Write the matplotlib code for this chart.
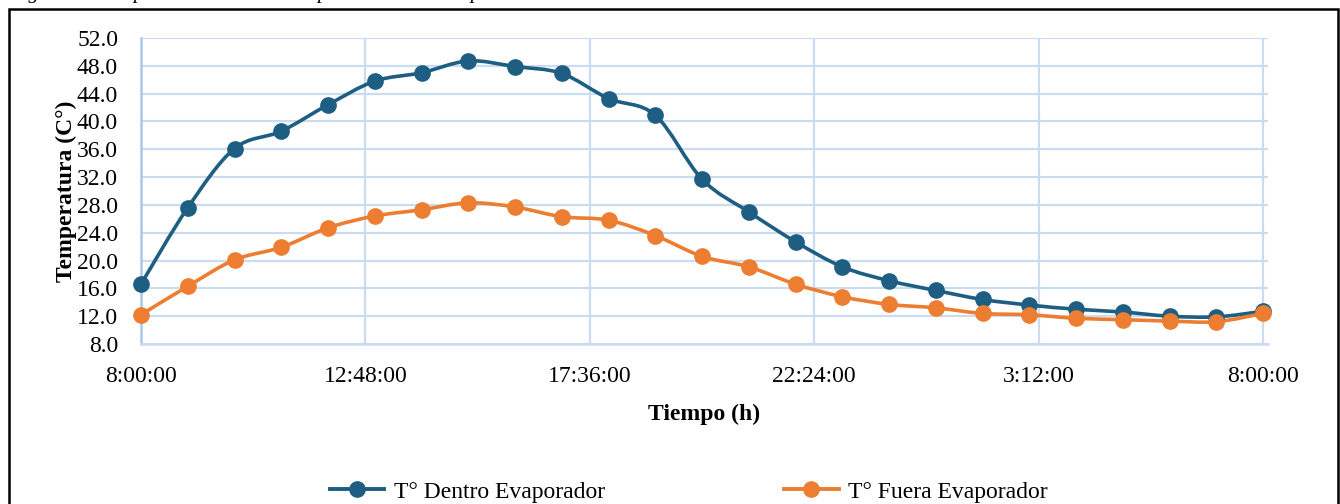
"""
Temperatura dentro y fuera del evaporador durante 24 h
"""

import numpy as np
from matplotlib import pyplot as plt
from matplotlib.path import Path
from matplotlib.patches import PathPatch, Rectangle
from matplotlib.lines import Line2D

# Datos (lecturas cada hora, 8:00 a 8:00 del dia siguiente)
horas = list(range(25))
t_dentro = [16.6, 27.6, 36.1, 38.6, 42.4, 45.8, 47.0, 48.7, 47.9, 46.9, 43.3, 40.9, 31.7,
            27.0, 22.7, 19.1, 17.1, 15.7, 14.4, 13.6, 13.0, 12.6, 12.0, 11.9, 12.7]
t_fuera = [12.2, 16.3, 20.1, 21.9, 24.7, 26.4, 27.3, 28.3, 27.7, 26.3, 25.8, 23.6, 20.6,
           19.1, 16.6, 14.8, 13.7, 13.2, 12.4, 12.2, 11.7, 11.5, 11.3, 11.2, 12.4]
x_ticks = [0, 4.8, 9.6, 14.4, 19.2, 24]
x_labels = ['8:00:00', '12:48:00', '17:36:00', '22:24:00', '3:12:00', '8:00:00']
y_ticks = [8, 12, 16, 20, 24, 28, 32, 36, 40, 44, 48, 52]

azul = '#1d5e82'
naranja = '#ed7d31'
grilla = '#cadcf1'
fs = 17

plt.rcParams['font.family'] = ['Liberation Serif', 'DejaVu Serif']


def curva_suave(x, y):
    # linea suavizada tipo Excel (Catmull-Rom como segmentos bezier)
    pts = np.column_stack([x, y]).astype(float)
    n = len(pts)
    verts = [pts[0]]
    codes = [Path.MOVETO]
    for i in range(n - 1):
        p0 = pts[i - 1] if i > 0 else pts[i]
        p1 = pts[i]
        p2 = pts[i + 1]
        p3 = pts[i + 2] if i + 2 < n else pts[i + 1]
        c1 = p1 + (p2 - p0) / 6.0
        c2 = p2 - (p3 - p1) / 6.0
        verts += [c1, c2, p2]
        codes += [Path.CURVE4] * 3
    return Path(verts, codes)


fig = plt.figure(figsize=(13.4, 5.04), dpi=100)
ax = fig.add_axes([141 / 1340, 1 - 344 / 504, 1127 / 1340, 306 / 504])

ax.set_xlim(0, 24 + 5 / 47)
ax.set_ylim(8, 52)
ax.set_xticks(x_ticks)
ax.set_xticklabels(x_labels)
ax.set_yticks(y_ticks)
ax.set_yticklabels(['%.1f' % v for v in y_ticks])
ax.tick_params(length=0, labelsize=fs, pad=16)
ax.tick_params(axis='y', pad=16.5)

ax.grid(True, color=grilla, linewidth=1.6)
ax.set_axisbelow(True)
for s in ['top', 'right']:
    ax.spines[s].set_visible(False)
ax.spines['left'].set_color('#a9c8ea')
ax.spines['left'].set_linewidth(1.8)
ax.spines['bottom'].set_color(grilla)
ax.spines['bottom'].set_linewidth(1.8)

for serie, col in [(t_dentro, azul), (t_fuera, naranja)]:
    ax.add_patch(PathPatch(curva_suave(horas, serie), fill=False, edgecolor=col,
                           linewidth=2.6, zorder=3))
    ax.plot(horas, serie, linestyle='none', marker='o', markersize=11,
            color=col, zorder=4, clip_on=False)

ax.set_xlabel('Tiempo (h)', fontsize=fs, fontweight='bold', labelpad=12)
ax.set_ylabel('Temperatura (C°)', fontsize=fs, fontweight='bold', labelpad=0)

h1 = Line2D([], [], color=azul, linewidth=2.8, marker='o', markersize=11)
h2 = Line2D([], [], color=naranja, linewidth=2.8, marker='o', markersize=11)
fig.legend([h1, h2], ['T° Dentro Evaporador', 'T° Fuera Evaporador'],
           loc='center', bbox_to_anchor=(0.514, 1 - 492 / 504), ncol=2,
           frameon=False, fontsize=fs, columnspacing=7.6, handlelength=2.3,
           handletextpad=0.4)

# marco del grafico
fig.patches.append(Rectangle((9 / 1340, -0.05), 1329 / 1340, 1.05 - 9 / 504,
                             transform=fig.transFigure, fill=False,
                             edgecolor='black', linewidth=1.8))

# titulo cortado en la parte superior
fig.text(10 / 1340, 1 + 2 / 504, 'Figura 5. Comportamiento de la temperatura en el evaporador',
         fontsize=15, style='italic', va='baseline', ha='left')

plt.savefig('out.png')
